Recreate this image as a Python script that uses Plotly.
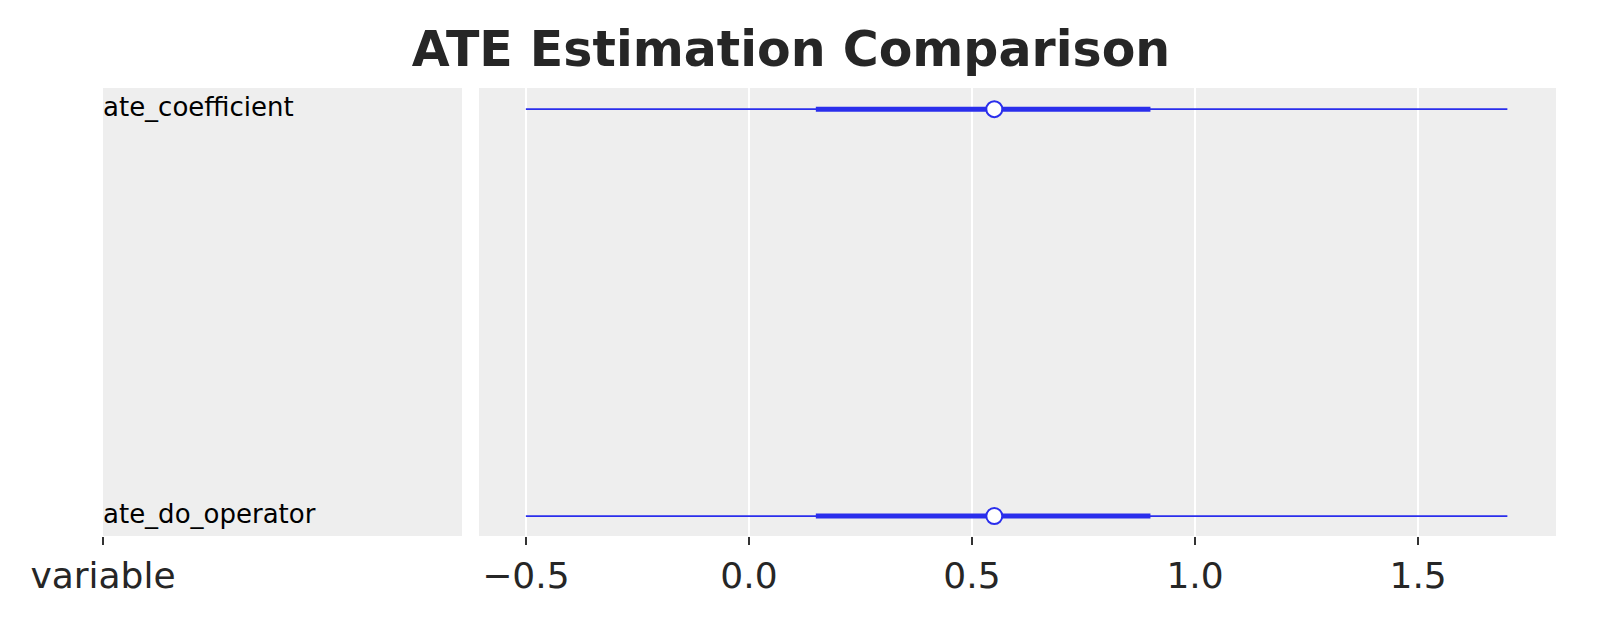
import plotly.graph_objects as go

# forest plot values
variables = ['ate_coefficient', 'ate_do_operator']
ypos = [1, 0]
hdi_low = [-0.50, -0.50]
hdi_high = [1.70, 1.70]
iqr_low = [0.15, 0.15]
iqr_high = [0.90, 0.90]
medians = [0.55, 0.55]
xticks = [-0.5, 0.0, 0.5, 1.0, 1.5]
xticklabels = ['\u22120.5', '0.0', '0.5', '1.0', '1.5']

blue = '#2a2eec'
bg = '#eeeeee'
W, H = 1623, 623

fig = go.Figure()

for i in range(len(variables)):
    fig.add_trace(go.Scatter(x=[hdi_low[i], hdi_high[i]], y=[ypos[i], ypos[i]],
                             mode='lines', line=dict(color=blue, width=1.7),
                             xaxis='x', yaxis='y', showlegend=False, hoverinfo='skip'))
    fig.add_trace(go.Scatter(x=[iqr_low[i], iqr_high[i]], y=[ypos[i], ypos[i]],
                             mode='lines', line=dict(color=blue, width=5),
                             xaxis='x', yaxis='y', showlegend=False, hoverinfo='skip'))
fig.add_trace(go.Scatter(x=medians, y=ypos, mode='markers',
                         marker=dict(color='white', size=16, line=dict(color=blue, width=2)),
                         xaxis='x', yaxis='y', showlegend=False))

# label panel
fig.add_trace(go.Scatter(x=[0, 0], y=ypos, mode='text', text=variables,
                         textposition='middle right',
                         textfont=dict(size=26, color='black', family='DejaVu Sans'),
                         xaxis='x2', yaxis='y2', showlegend=False, hoverinfo='skip'))

ydom = [1 - 528 / H, 1 - 80 / H]
yrng = [-0.049, 1.052]

fig.update_layout(
    template='none',
    width=W, height=H,
    margin=dict(l=0, r=0, t=0, b=0, pad=0, autoexpand=False),
    paper_bgcolor='white', plot_bgcolor=bg,
    font=dict(family='DejaVu Sans', color='#262626'),
    title=dict(text='<b>ATE Estimation Comparison</b>', x=783 / W, xanchor='center',
               y=1 - 41 / H, yanchor='middle', font=dict(size=49, color='#262626')),
    xaxis=dict(domain=[471 / W, 1548 / W], range=[-0.605, 1.809], automargin=False,
               tickvals=xticks, ticktext=xticklabels, showgrid=True, gridcolor='white',
               gridwidth=1.5, zeroline=False, showline=False, ticks='outside', ticklen=8,
               tickwidth=2, tickcolor='#333333', tickfont=dict(size=36, color='#262626'),
               anchor='y'),
    yaxis=dict(domain=ydom, range=yrng, showgrid=False, zeroline=False, showline=False,
               showticklabels=False, ticks='', automargin=False, anchor='x'),
    xaxis2=dict(domain=[95 / W, 454 / W], range=[0, 1], tickvals=[0], ticktext=['variable'],
                showgrid=False, zeroline=False, showline=False, ticks='outside', ticklen=8,
                tickwidth=2, tickcolor='#333333', tickfont=dict(size=36, color='#262626'),
                automargin=False, anchor='y2'),
    yaxis2=dict(domain=ydom, range=yrng, showgrid=False, zeroline=False, showline=False,
                showticklabels=False, ticks='', automargin=False, anchor='x2'),
)

fig.write_html('out.html')
